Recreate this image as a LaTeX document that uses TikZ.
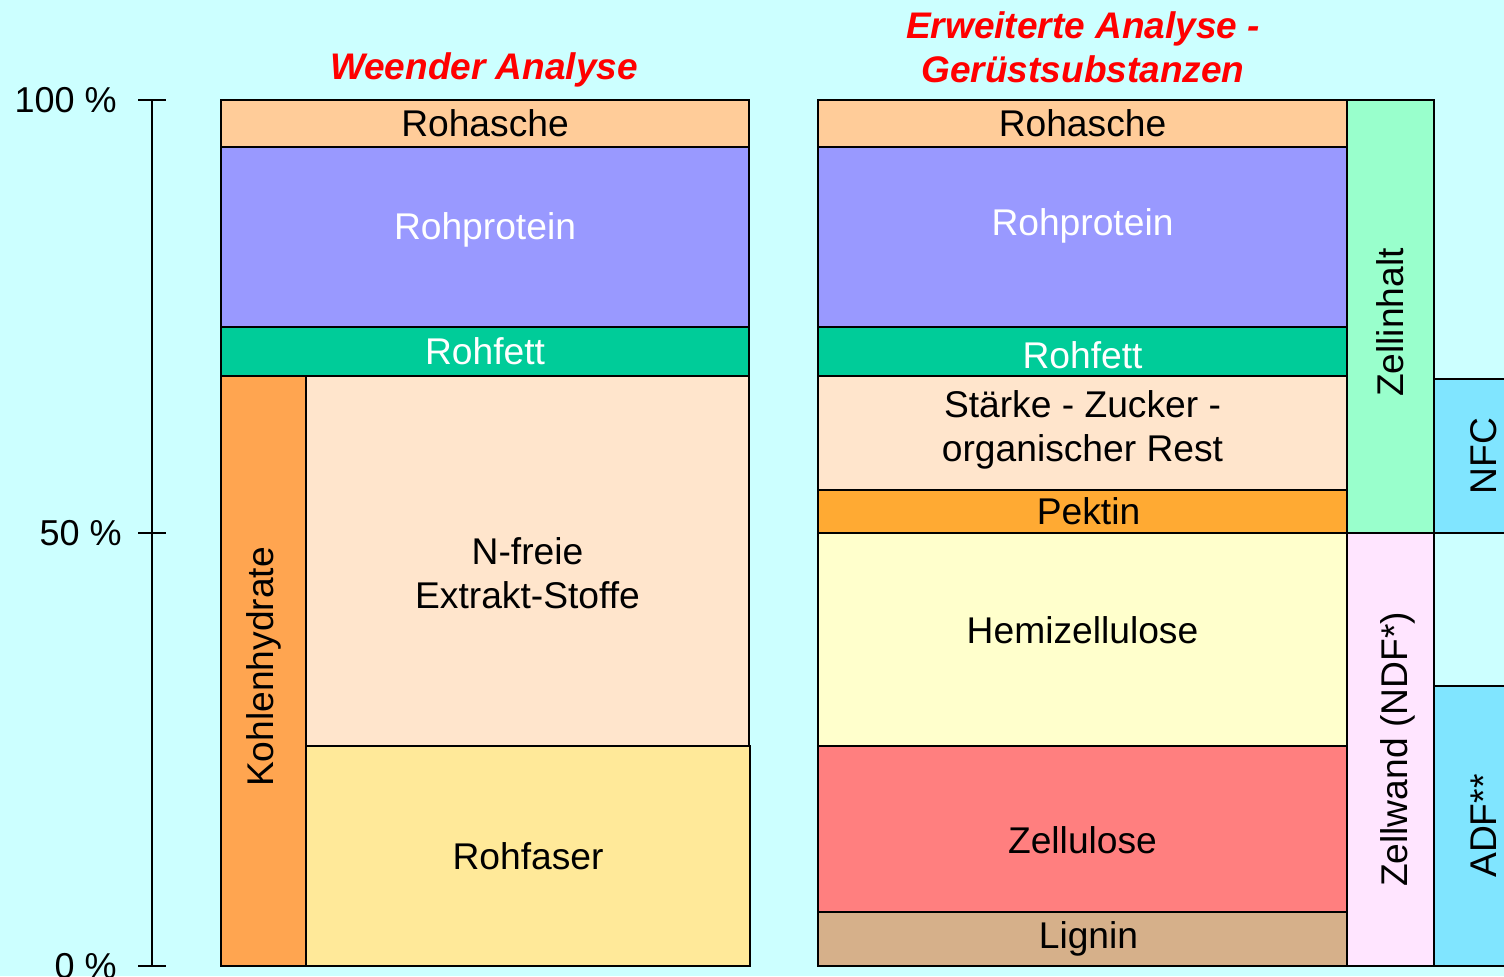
\documentclass[tikz,border=0pt]{standalone}
\usepackage{fontspec}
\setmainfont{Liberation Sans}
\usetikzlibrary{calc, positioning}
\definecolor{bgcyan}{HTML}{CCFFFF}
\definecolor{asche}{HTML}{FFCC99}
\definecolor{protein}{HTML}{9999FF}
\definecolor{fett}{HTML}{00CC99}
\definecolor{kohlen}{HTML}{FFA550}
\definecolor{nfe}{HTML}{FFE5CC}
\definecolor{faser}{HTML}{FFE999}
\definecolor{pektin}{HTML}{FFAA33}
\definecolor{hemi}{HTML}{FFFFCC}
\definecolor{zellu}{HTML}{FF7F7F}
\definecolor{lignin}{HTML}{D6B08A}
\definecolor{inhalt}{HTML}{99FFCC}
\definecolor{wand}{HTML}{FFE5FF}
\definecolor{fiber}{HTML}{80E5FF}
\definecolor{titlered}{HTML}{FF0000}

\begin{document}
\begin{tikzpicture}[x=0.5pt, y=-0.5pt,
    seg/.style={draw=black, line width=1.1pt},
    lbl/.style={font=\fontsize{18.6}{22}\selectfont, align=center, inner sep=0pt},
    wlbl/.style={lbl, text=white},
    vlbl/.style={lbl, rotate=90},
    head/.style={font=\fontsize{18.5}{22}\selectfont\bfseries\itshape, text=titlered, align=center},
    tick/.style={font=\fontsize{18}{21}\selectfont, anchor=east, inner sep=0pt}]
    % page
    \fill[bgcyan] (0,0) rectangle (1504,976);
    \useasboundingbox (0,0) rectangle (1504,976);
    \clip (0,0) rectangle (1504,976);
    % scale
    \draw[line width=0.7pt] (152,100) -- (152,966);
    \foreach \yy/\txt/\xx in {100/100 \%/117, 533/50 \%/122, 966/0 \%/117} {
      \draw[line width=0.7pt] (138,\yy) -- (166,\yy);
      \node[tick] at (\xx,\yy) {\txt};
    }
    % headings
    \node[head] (weender) at (484,70) {Weender Analyse};
    \node[head] (erweitert) at (1083,47) {Erweiterte Analyse -\\Gerüstsubstanzen};
    % Weender column
    \draw[seg, fill=asche] (221,100) rectangle (749,147) node[midway, lbl] (lasche) {Rohasche};
    \draw[seg, fill=protein] (221,147) rectangle (749,327) node[midway, wlbl, yshift=3.5pt] (lprot) {Rohprotein};
    \draw[seg, fill=fett] (221,327) rectangle (749,376) node[midway, wlbl] (lfett) {Rohfett};
    \draw[seg, fill=kohlen] (221,376) rectangle (306,966) node[midway, vlbl, xshift=2pt] (kohlen) {Kohlenhydrate};
    \draw[seg, fill=nfe] (306,376) rectangle (749,746) node[midway, lbl, yshift=-6pt] (nfe) {N-freie\\Extrakt-Stoffe};
    \draw[seg, fill=faser] (306,746) rectangle (750,966) node[midway, lbl] (faser) {Rohfaser};
    % extended column
    \draw[seg, fill=asche] (818,100) rectangle (1347,147) node[midway, lbl] (rasche) {Rohasche};
    \draw[seg, fill=protein] (818,147) rectangle (1347,327) node[midway, wlbl, yshift=5.5pt] (rprot) {Rohprotein};
    \draw[seg, fill=fett] (818,327) rectangle (1347,376) node[midway, wlbl, yshift=-2pt] (rfett) {Rohfett};
    \draw[seg, fill=nfe] (818,376) rectangle (1347,490) node[midway, lbl, yshift=1.5pt] (staerke) {Stärke - Zucker -\\organischer Rest};
    \draw[seg, fill=pektin] (818,490) rectangle (1347,533) node[midway, lbl, xshift=3pt] (pektin) {Pektin};
    \draw[seg, fill=hemi] (818,533) rectangle (1347,746) node[midway, lbl, yshift=4.5pt] (hemi) {Hemizellulose};
    \draw[seg, fill=zellu] (818,746) rectangle (1347,912) node[midway, lbl, yshift=-5.5pt] (zellu) {Zellulose};
    \draw[seg, fill=lignin] (818,912) rectangle (1347,966) node[midway, lbl, xshift=3pt] (lignin) {Lignin};
    % fractions
    \draw[seg, fill=inhalt] (1347,100) rectangle (1434,533) node[midway, vlbl, xshift=-3pt] (inhalt) {Zellinhalt};
    \draw[seg, fill=wand] (1347,533) rectangle (1434,966) node[midway, vlbl, yshift=-3.5pt] (wand) {Zellwand (NDF*)};
    \draw[seg, fill=fiber] (1434,379) rectangle (1530,533) node[midway, vlbl, yshift=-1pt] (nfc) {NFC};
    \draw[seg, fill=fiber] (1434,686) rectangle (1530,966) node[midway, vlbl, yshift=-1pt] (adf) {ADF**};
\end{tikzpicture}
\end{document}
